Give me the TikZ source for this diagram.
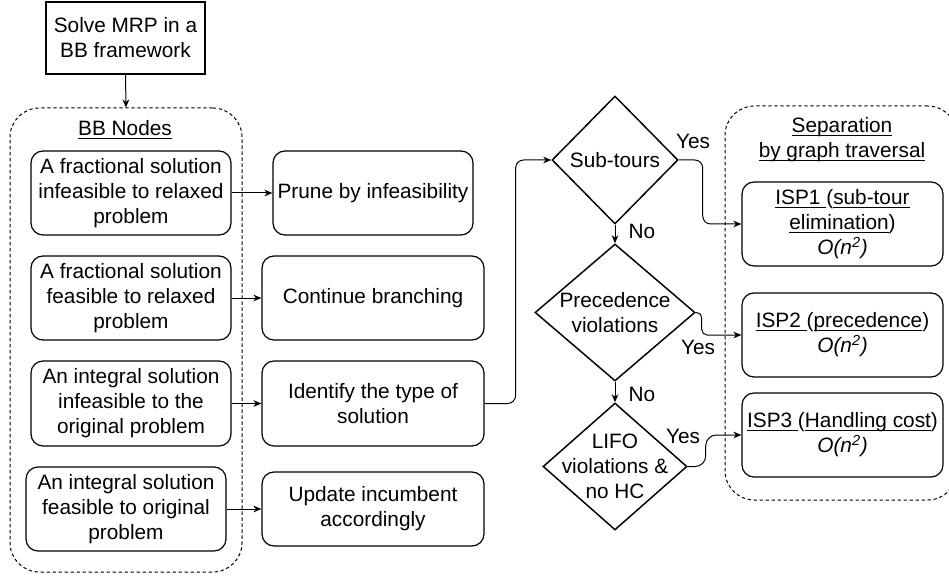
\documentclass[tikz,border=0pt]{standalone}
\usepackage{fontspec}
\setmainfont{Liberation Sans}
\usetikzlibrary{shapes.geometric,arrows.meta}
% underline with a fixed depth, independent of descenders
\newcommand{\undl}[1]{\setbox0\hbox{#1}\rlap{\rule[-2.6pt]{\wd0}{0.9pt}}\box0}
\newcommand{\onsq}{\textit{O(n\textsuperscript{2})}}
\tikzset{
  sz/.style 2 args={minimum width=#1*0.75pt, minimum height=#2*0.75pt},
  txt/.style={font=\fontsize{15.6}{18.75}\selectfont, align=center},
  sqbox/.style={txt, draw, line width=0.9pt, inner sep=2pt},
  rbox/.style={txt, draw, line width=0.9pt, rounded corners=9pt, inner sep=2pt},
  group/.style={draw, line width=0.75pt, dash pattern=on 2.5pt off 2pt, rounded corners=22pt},
  dia/.style={diamond, draw, line width=1.1pt, inner sep=0pt},
  arr/.style={-{Stealth[length=6pt,width=5pt,inset=1.8pt]}, line width=0.75pt},
}
\begin{document}
\begin{tikzpicture}[x=0.75pt, y=-0.75pt]
\useasboundingbox (0,0) rectangle (949,577);

% entry point
\node[sqbox, sz={159}{72}] (start) at (125.5,38) {Solve MRP in a\\BB framework};

% branch-and-bound node group
\node[group, sz={232}{464}] (bbgroup) at (126,340) {};
\node[txt] (bbtitle) at (125,130) {\undl{BB Nodes}};
\node[rbox, sz={200}{84}] (b1) at (131,193) {A fractional solution\\infeasible to relaxed\\problem};
\node[rbox, sz={200}{84}] (b2) at (131,298) {A fractional solution\\feasible to relaxed\\problem};
\node[rbox, sz={200}{85}] (b3) at (131,403.5) {An integral solution\\infeasible to the\\original problem};
\node[rbox, sz={200}{84}] (b4) at (126,509) {An integral solution\\feasible to original\\problem};

% actions
\node[rbox, sz={200}{84}] (prune) at (373,193) {Prune by infeasibility};
\node[rbox, sz={222}{84}] (cont) at (373,298) {Continue branching};
\node[rbox, sz={222}{85}] (ident) at (373,403.5) {Identify the type of\\solution};
\node[rbox, sz={222}{74}] (upd) at (373,509) {Update incumbent\\accordingly};

% decisions
\node[dia, sz={126}{128}, label={[txt]center:Sub-tours}] (sub) at (615,160) {};
\node[dia, sz={160}{137}, label={[txt]center:Precedence\\violations}] (prec) at (615,312.5) {};
\node[dia, sz={144}{127}, label={[txt]center:LIFO\\violations \&\\no HC}] (lifo) at (615,466.5) {};

% separation group
\node[group, sz={232}{394}] (sepgroup) at (841,303) {};
\node[txt] (septitle) at (842,140) {\undl{Separation}\\\undl{by graph traversal}};
\node[rbox, sz={201}{84}] (isp1) at (842.5,224) {\undl{ISP1 }(\undl{sub-tour}\\\undl{elimination})\\\onsq};
\node[rbox, sz={201}{84}] (isp2) at (842.5,335) {\undl{ISP2 }(\undl{precedence})\\\onsq};
\node[rbox, sz={201}{84}] (isp3) at (842.5,435) {\undl{ISP3 }(\undl{Handling}\undl{ cost})\\\onsq};

% connectors
\draw[arr] (start.south) -- (bbgroup.north);
\draw[arr] (b1.east) -- (prune.west);
\draw[arr] (b2.east) -- (cont.west);
\draw[arr] (b3.east) -- (ident.west);
\draw[arr] (b4.east) -- (upd.west);
\draw[arr, rounded corners=6pt] (ident.east) -- ++(31,0) |- (sub.west);
\draw[arr] (sub.south) -- (prec.north);
\draw[arr] (prec.south) -- (lifo.north);
\draw[arr, rounded corners=6pt] (sub.east) -- ++(24,0) |- (isp1.west);
\draw[arr, rounded corners=4pt] (prec.east) -- ++(6,0) |- (isp2.west);
\draw[arr, rounded corners=8pt] (lifo.east) -- ++(18,0) |- (isp3.west);

% branch labels
\node[txt] (no1) at (642,231) {No};
\node[txt] (no2) at (642,394) {No};
\node[txt] (yes1) at (693,141) {Yes};
\node[txt] (yes2) at (698,347) {Yes};
\node[txt] (yes3) at (683,436) {Yes};
\end{tikzpicture}
\end{document}
